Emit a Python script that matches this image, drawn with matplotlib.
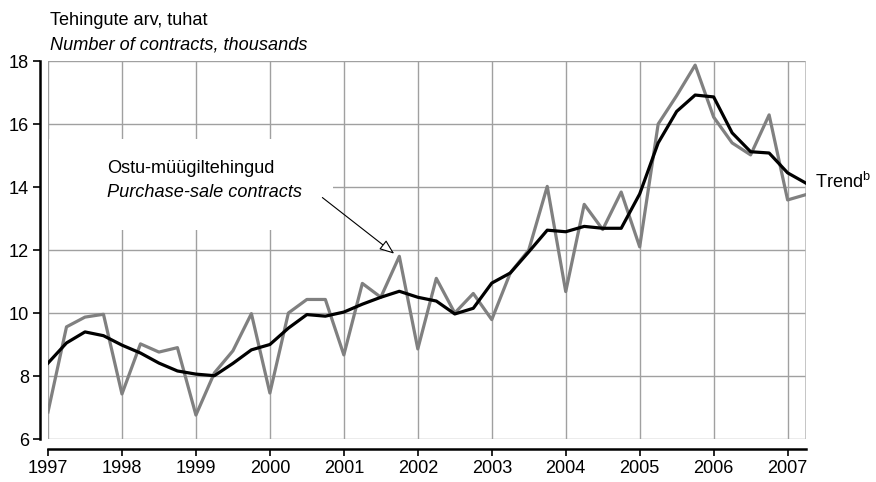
import numpy as np
import matplotlib.pyplot as plt
from matplotlib.patches import Rectangle

plt.rcParams['font.family'] = ['Liberation Sans', 'DejaVu Sans']

# quarterly values, 1997 Q1 .. 2007 Q2
years = np.arange(1997, 2008)
contracts = [6.86, 9.56, 9.87, 9.96,
             7.43, 9.02, 8.76, 8.90,
             6.76, 8.10, 8.80, 9.98,
             7.46, 10.00, 10.43, 10.43,
             8.67, 10.94, 10.50, 11.80,
             8.86, 11.10, 10.00, 10.62,
             9.79, 11.27, 12.00, 14.02,
             10.68, 13.45, 12.65, 13.84,
             12.10, 16.00, 16.90, 17.87,
             16.22, 15.40, 15.02, 16.29,
             13.59, 13.76]
trend = [8.41, 9.05, 9.40, 9.28,
         8.98, 8.73, 8.41, 8.16,
         8.06, 8.01, 8.40, 8.83,
         9.00, 9.52, 9.95, 9.90,
         10.03, 10.28, 10.50, 10.69,
         10.50, 10.38, 9.97, 10.15,
         10.95, 11.27, 11.94, 12.63,
         12.58, 12.75, 12.69, 12.69,
         13.78, 15.40, 16.40, 16.92,
         16.86, 15.72, 15.12, 15.08,
         14.45, 14.12]
t = 1997 + np.arange(len(contracts)) / 4

fs = 13.1
fig = plt.figure(figsize=(8.76, 4.82), dpi=100)
ax = fig.add_axes([0.0548, 0.0892, 0.8654, 0.7842])
ax.set_xlim(1997, 2007.25)
ax.set_ylim(6, 18)

grid_c = '#a0a0a0'
for y in range(6, 19, 2):
    ax.axhline(y, color=grid_c, lw=1, zorder=1)
for yr in years:
    ax.axvline(yr, color=grid_c, lw=1, zorder=1)
ax.axvline(2007.25, color='#bbbbbb', lw=1.2, zorder=1)

# white area behind the annotation text
ax.add_patch(Rectangle((1997.02, 12.62), 3.84, 2.9, facecolor='white',
                       edgecolor='none', zorder=2))

ax.plot(t, contracts, color='#808080', lw=2.3, zorder=3)
ax.plot(t, trend, color='black', lw=2.3, zorder=4)

ax.text(1997.8, 14.6, 'Ostu-müügiltehingud', fontsize=fs, zorder=5,
        va='center')
ax.text(1997.8, 13.83, 'Purchase-sale contracts', fontsize=fs,
        style='italic', zorder=5, va='center')
ax.annotate('', xy=(2001.71, 11.83), xytext=(2000.68, 13.72),
            arrowprops=dict(arrowstyle='-|>,head_length=0.9,head_width=0.35',
                            fc='white', ec='black', lw=0.8),
            zorder=5)

ax.text(2007.37, 14.15, 'Trend$^{\\mathregular{b}}$', fontsize=fs,
        va='center', clip_on=False)

fig.text(0.057, 0.957, 'Tehingute arv, tuhat', fontsize=fs, va='center')
fig.text(0.057, 0.906, 'Number of contracts, thousands', fontsize=fs,
         style='italic', va='center')

for s in ['top', 'right']:
    ax.spines[s].set_visible(False)
ax.spines['left'].set_position(('outward', 5.8))
ax.spines['bottom'].set_position(('outward', 7.2))
ax.spines['left'].set_linewidth(1.8)
ax.spines['bottom'].set_linewidth(1.8)
ax.spines['left'].set_bounds(6, 18)
ax.set_yticks(range(6, 19, 2))
ax.set_xticks(years)
ax.set_xticklabels([str(y) for y in years])
ax.tick_params(axis='both', labelsize=fs, width=1.2, length=5, direction='out')
ax.tick_params(axis='x', pad=3)
ax.tick_params(axis='y', pad=3)

fig.savefig('out.png', dpi=100)
